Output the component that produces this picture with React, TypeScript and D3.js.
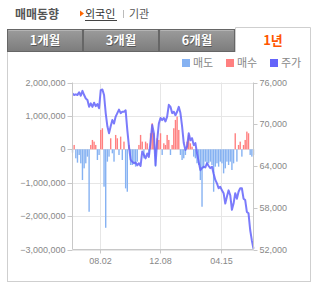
import * as d3 from "d3";

// tabs and legend
const tabs = ["1개월", "3개월", "6개월", "1년"];
const activeTab = 3;
const legendItems = [
  { label: "매도", color: "#86b2f2" },
  { label: "매수", color: "#ff8080" },
  { label: "주가", color: "#6464fa" },
];

// axes
const leftTicks = [2000000, 1000000, 0, -1000000, -2000000, -3000000];
const rightTicks = [76000, 70000, 64000, 58000, 52000];
const xTickDates = ["2012-08-02", "2012-12-08", "2013-04-15"];
const startDate = "2012-06-05";
const endDate = "2013-06-24";

// closing price (주가)
const price = [
  74400, 74200, 74300, 74200, 74600, 74100, 74800, 74200, 73700, 73500,
  72500, 73000, 72500, 73100, 72600, 72900, 72300, 74900, 75000, 74200,
  71600, 69700, 68700, 69700, 70600, 70100, 71100, 71600, 72100, 71600,
  71800, 71800, 72000, 69200, 66800, 64900, 64600, 64400, 64500, 64100,
  64400, 64000, 66100, 65600, 65100, 65800, 65300, 67500, 69900, 68700,
  64100, 67700, 70100, 70900, 70600, 70900, 70400, 71100, 72800, 72500,
  71600, 71800, 71300, 71800, 72500, 71600, 69700, 67300, 66300, 66800,
  68700, 67700, 68000, 67000, 67300, 65800, 64600, 63400, 63700, 63900,
  63800, 64400, 64000, 63700, 63900, 62900, 62000, 61500, 60800, 61000,
  60500, 60100, 58600, 59600, 60500, 59800, 57700, 58600, 60100, 59300,
  60300, 60800, 60800, 59300, 59100, 57400, 57200, 54800, 53300, 52100,
];

// foreign net trading, thousands of shares (+ 매수 / - 매도)
const netFlow = [
  -100, 130, -270, -400, -170, -420, -920, -570, -420, -220,
  -1870, 130, 280, 230, 130, -320, -170, 580, 630, -1120,
  -2350, -370, -220, 330, -120, -370, 430, 330, -170, 380,
  -320, 230, -1170, -1270, 130, -470, -470, -420, -520, -370,
  130, 430, 230, -270, 230, 180, -170, 480, 780, 480,
  -520, 330, 280, 480, -170, 180, 130, 430, 280, -170,
  130, 630, 880, 980, 580, -170, -320, -270, -170, 230,
  430, 180, 80, -220, -270, -420, -470, -920, -1720, -570,
  -370, -470, -420, -370, -470, -1270, -520, -420, -520, -370,
  -420, -720, -570, -370, -470, -370, -620, -420, 480, -370,
  130, 230, -220, 130, 280, 530, 480, -170, -220, -170,
];

const W = 314;
const H = 288;
const plot = { left: 72.5, right: 253.5, top: 82.5, bottom: 249.5 };
const numFont = "'Liberation Sans', Arial, sans-serif";
const krFont = "'Noto Sans CJK KR', sans-serif";

export default function App() {
  const parse = d3.timeParse("%Y-%m-%d");
  const fmt = d3.timeFormat("%m.%d");
  const t0 = parse(startDate)!;
  const t1 = parse(endDate)!;

  const x = d3.scaleTime().domain([t0, t1]).range([plot.left, plot.right]);
  const idxToTime = d3
    .scaleLinear()
    .domain([0, price.length - 1])
    .range([t0.getTime(), t1.getTime()]);
  const xi = (i: number) => x(new Date(idxToTime(i)));

  const yL = d3.scaleLinear().domain([-3000000, 2000000]).range([plot.bottom, plot.top]);
  const yR = d3.scaleLinear().domain([52000, 76000]).range([plot.bottom, plot.top]);

  const line = d3
    .line<number>()
    .x((_, i) => xi(i))
    .y((d) => yR(d));

  const tabW = 76;
  const tabX = (i: number) => 7 + i * tabW;

  return (
    <svg
      width={W}
      height={H}
      style={{ position: "absolute", left: 0, top: 0, background: "#fff" }}
    >
      <defs>
        <linearGradient id="tabg" x1="0" y1="0" x2="0" y2="1">
          <stop offset="0" stopColor="#9c9c9c" />
          <stop offset="1" stopColor="#7c7c7c" />
        </linearGradient>
      </defs>

      {/* header */}
      <text x={15} y={19} fontFamily={krFont} fontSize={12} fontWeight={700} fill="#555">
        매매동향
      </text>
      <path d="M80,10.5 L84,13.5 L80,16.5 Z" fill="#ff6600" />
      <text x={85} y={18} fontFamily={krFont} fontSize={11} fill="#333">
        외국인
      </text>
      <line x1={85} x2={117} y1={20.5} y2={20.5} stroke="#444" />
      <line x1={123.5} x2={123.5} y1={10} y2={18} stroke="#bbb" />
      <text x={129} y={18} fontFamily={krFont} fontSize={11} fill="#555">
        기관
      </text>

      {/* panel */}
      <rect x={7.5} y={51.5} width={303} height={230} fill="#fff" stroke="#cfcfcf" />

      {/* tabs */}
      {tabs.map((t, i) =>
        i === activeTab ? (
          <g key={t}>
            <path
              d={`M${tabX(i) + 0.5},52 V27.5 H${tabX(i) + tabW - 0.5} V52`}
              fill="#fff"
              stroke="#cfcfcf"
            />
            <text
              x={tabX(i) + tabW / 2}
              y={45}
              textAnchor="middle"
              fontFamily={krFont}
              fontSize={13}
              fontWeight={700}
              fill="#ff5500"
            >
              {t}
            </text>
          </g>
        ) : (
          <g key={t}>
            <rect
              x={tabX(i) + 0.5}
              y={29.5}
              width={tabW - 1}
              height={22}
              fill="url(#tabg)"
              stroke="#666"
            />
            <line
              x1={tabX(i) + 1.5}
              x2={tabX(i) + tabW - 1.5}
              y1={30.5}
              y2={30.5}
              stroke="#b4b4b4"
            />
            <text
              x={tabX(i) + tabW / 2 + 0.6}
              y={45.6}
              textAnchor="middle"
              fontFamily={krFont}
              fontSize={12.5}
              fontWeight={700}
              fill="#555"
            >
              {t}
            </text>
            <text
              x={tabX(i) + tabW / 2}
              y={45}
              textAnchor="middle"
              fontFamily={krFont}
              fontSize={12.5}
              fontWeight={700}
              fill="#fff"
            >
              {t}
            </text>
          </g>
        )
      )}

      {/* legend */}
      {legendItems.map((d, i) => (
        <g key={d.label} transform={`translate(${182 + i * 44},59)`}>
          <rect width={8} height={8} fill={d.color} />
          <text x={11} y={8} fontFamily={krFont} fontSize={11} fill="#888">
            {d.label}
          </text>
        </g>
      ))}

      {/* grid */}
      {leftTicks.map((v) => (
        <g key={v}>
          <line x1={plot.left} x2={plot.right} y1={Math.round(yL(v)) + 0.5} y2={Math.round(yL(v)) + 0.5} stroke="#e6e6e6" />
          <line x1={plot.left - 5} x2={plot.left} y1={Math.round(yL(v)) + 0.5} y2={Math.round(yL(v)) + 0.5} stroke="#c8c8c8" />
          <text
            x={plot.left - 7}
            y={yL(v) + 3}
            textAnchor="end"
            fontFamily={numFont}
            fontSize={9}
            fill="#888"
          >
            {d3.format(",")(v)}
          </text>
        </g>
      ))}
      {xTickDates.map((s) => {
        const d = parse(s)!;
        const px = Math.round(x(d)) + 0.5;
        return (
          <g key={s}>
            <line x1={px} x2={px} y1={plot.top} y2={plot.bottom} stroke="#e6e6e6" />
            <line x1={px} x2={px} y1={plot.bottom} y2={plot.bottom + 4} stroke="#c8c8c8" />
            <text
              x={px}
              y={264}
              textAnchor="middle"
              fontFamily={numFont}
              fontSize={9}
              fill="#888"
            >
              {fmt(d)}
            </text>
          </g>
        );
      })}

      {/* bars */}
      {netFlow.map((v, i) => {
        const v0 = yL(0);
        const v1 = yL(v * 1000);
        return (
          <rect
            key={i}
            x={xi(i) - 0.7}
            y={Math.min(v0, v1)}
            width={1.4}
            height={Math.abs(v1 - v0)}
            fill={v >= 0 ? legendItems[1].color : legendItems[0].color}
          />
        );
      })}

      {/* price line */}
      <path
        d={line(price)!}
        fill="none"
        stroke={legendItems[2].color}
        strokeWidth={2}
        strokeOpacity={0.85}
        strokeLinejoin="round"
      />

      {/* axes */}
      <line x1={plot.left} x2={plot.left} y1={plot.top} y2={plot.bottom} stroke="#c8c8c8" />
      <line x1={plot.right} x2={plot.right} y1={plot.top} y2={plot.bottom} stroke="#c8c8c8" />
      <line x1={plot.left} x2={plot.right} y1={plot.bottom} y2={plot.bottom} stroke="#c8c8c8" />
      {rightTicks.map((v) => (
        <g key={v}>
          <line x1={plot.right} x2={plot.right + 4} y1={Math.round(yR(v)) + 0.5} y2={Math.round(yR(v)) + 0.5} stroke="#c8c8c8" />
          <text x={plot.right + 6} y={yR(v) + 3} fontFamily={numFont} fontSize={9} fill="#888">
            {d3.format(",")(v)}
          </text>
        </g>
      ))}
    </svg>
  );
}
